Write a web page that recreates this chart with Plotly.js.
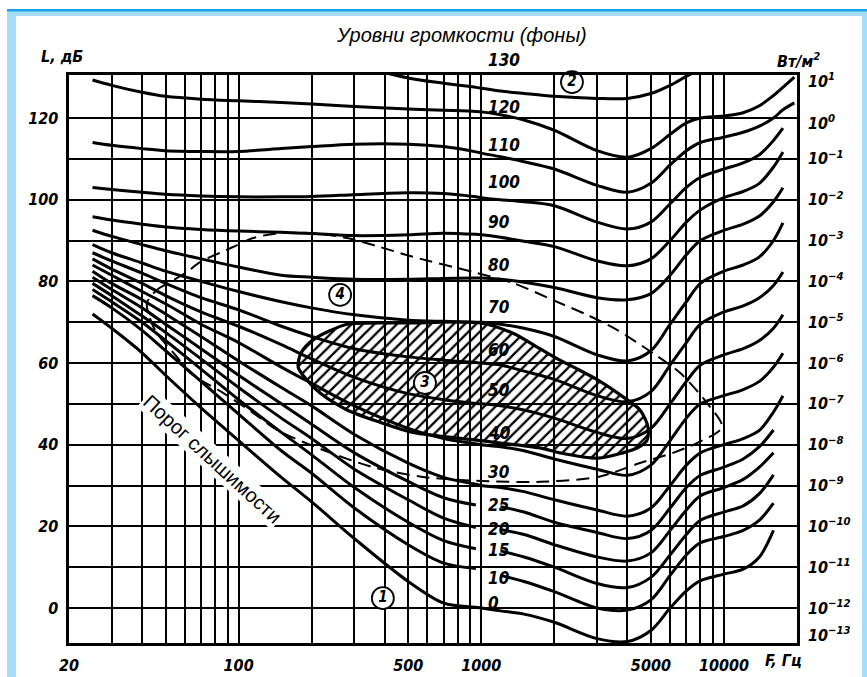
<!DOCTYPE html>
<html>
<head>
<meta charset="utf-8">
<script src="https://cdn.plot.ly/plotly-3.0.1.min.js"></script>
<style>
html,body{margin:0;padding:0;background:#fff;overflow:hidden;}
#chart{width:867px;height:677px;}
</style>
</head>
<body>
<div id="chart"></div>
<script>
// ---------------- DATA ----------------
const N = null;
// frequency samples, Hz
const freqHz = [25,30,40,50,70,100,150,200,300,500,700,950,1000,1200,1500,2000,3000,4000,5000,6000,7000,8000,10000,12000,14000,16000,17500,19500];

// loudness levels (phon) and their curves (dB)
const phon0   = [72,68.5,62.5,57,49,41,32,26,17,6.5,1.2,0.2,0,-0.7,-1.5,-3.5,-7.5,-8.2,-5.5,0,4.2,6.7,8.3,9.5,12.5,19,N,N];
const phon10  = [76.5,73.5,68,63,55.5,47.5,38.5,33,24.5,15.5,11,9.7,N,8,6.5,4,0,-0.5,2,8,13,16,17.5,19,21.5,25.7,N,N];
const phon15  = [78,75,70,65.5,58.5,51,43,37.5,29.5,21,16.5,14.5,N,14,12.5,10,6,5,7.5,13,18,21.5,23.5,25,28,32.6,N,N];
const phon20  = [79.5,76.5,71.5,67.5,61,54,46.5,41.5,34,26.5,22,19.7,N,19.2,18,15.5,12.5,11.5,13.5,19,24,27.5,29.5,31.5,34.5,38,N,N];
const phon25  = [81,78,73.5,69.5,63.5,57,50,45,38,31,27,25.2,N,24.8,23.5,21,18.5,17,19,24.5,29.5,32.5,34.5,36.5,39.5,43.6,N,N];
const phon30  = [82.5,79.5,75.5,72,66.5,60.5,54,49.5,42.5,35.5,32,30.3,30,29.5,28.5,26.5,24,22.5,24.5,30,35,38,40,41.5,43.5,48,52,N];
const phon40  = [84,81.5,77.5,74.5,69.5,65,59,55,49.5,44,41.5,40.2,40,39.5,38.5,36.5,34,32.5,35,41,46.5,50,52,53.5,55.5,59,62.4,N];
const phon50  = [85.5,83,79.5,76.5,72.5,69,64.5,61,56.5,52.5,51,50.1,50,49.5,48.5,46.5,43,41.5,44,50,55.5,59.5,62,63.5,65.5,68.5,71.8,N];
const phon60  = [87,85,82,79.5,76,73,69,66.5,63.5,61.5,60.7,60.1,60,59.5,58,56,52,50.5,53,59.5,65,69.5,72.5,74,76,79,82.3,N];
const phon70  = [89,87,84.5,82.5,80,77.5,75,73.5,71.8,70.5,70.2,70,70,69.5,68.5,66.5,62,60.5,63,69.5,75,79.5,82.5,84,86,90,94.3,N];
const phon80  = [92.5,91,89,87.5,85.5,83.5,81.5,81,80.5,80.5,80.7,80.8,80.8,80.5,79.8,78.5,76,75.5,77,81.5,86.5,90,92.5,94,96,99.5,102.9,N];
const phon90  = [95.8,95,94,93.3,92.7,92.3,92,91.7,91.2,91.4,91.8,91.5,91.4,90.8,89.8,88.5,85,83.8,85.5,90,94.5,97.5,100.5,102,104,108,111.7,N];
const phon100 = [103,102.5,101.8,101.3,100.9,100.7,100.7,100.8,101.2,101.7,101.5,100.7,100.5,100,99.5,98.5,94.5,92.8,94.5,99,103,105.5,107.5,109,111,114.5,117.5,N];
const phon110 = [114,113.3,112.5,112,111.8,111.8,112.5,113,113.6,113.6,113,111.7,111.4,110.5,109.3,107.5,103.5,101.8,104,108.5,112,114,115.3,116.5,118,120,122,123.7];
const phon120 = [129.3,128,126.3,125.3,124.6,124.2,123.8,123.4,122.8,122.2,121.9,121.6,121.5,120.8,119.5,117,112,110.4,112.5,116,118.8,120,120.5,121.3,123,125.5,127.5,130];
const phon130 = [N,N,N,N,N,N,N,N,133,129.8,128.5,127.5,127.3,126.6,126,125.3,124.8,124.8,126,128,130.2,132,N,N,N,N,N,N];

const phonCurves = [phon0,phon10,phon15,phon20,phon25,phon30,phon40,phon50,phon60,phon70,phon80,phon90,phon100,phon110,phon120,phon130];
const phonLabels = ['0','10','15','20','25','30','40','50','60','70','80','90','100','110','120','130'];
const phonLabelDb = [1.2,7.3,14.2,19.3,25.2,33.3,42.9,53.4,63.2,73.7,84,94.5,104.3,113.4,122.7,134.2];
const phonLabelFreq = 1046;

// region 3 (hatched: speech)
const speechFreq = [176,181,202,240,280,500,990,1351,1746,2109,2400,3027,3838,4508,4865,4820,4400,3838,3027,2109,1746,988,523,382,280,216,190,176];
const speechDb   = [59,62.5,65.6,68,69.5,69.8,69.8,67.3,63.5,60.7,59,55.8,51.7,48.5,44.3,41.1,39.2,38,36.7,38,39.2,41,43,45.5,48.5,52.7,56,59];

// region 4 (dashed: music)
const musicFreq = [41.9,46.1,52.2,61.3,69.3,94.8,114.6,148,202.5,279.7,382.4,523,924,1351,1975,2727,3625,5100,6590,8515,9818,7744,6166,4508,3027,1746,1007,575,357.8,222.8,143.9,114.6,86.2,63,55.7,45.2,41.9];
const musicDb   = [74.7,77.9,79.8,82.3,84.7,88.4,90.6,91.8,91.8,90.6,88.4,86,82.3,79.6,75.4,71.8,68.1,62.4,57.6,50.2,44.3,40.4,38,35.5,32.1,30.9,31.1,32.1,34.5,38.7,43.6,47.8,52.7,57.6,61.5,68.1,74.7];

// circled labels
const circleFreq = [393,2364,586,262];
const circleDb   = [2.4,128.8,55.1,76.7];
const circleText = ['1','2','3','4'];

// axes
const gridFreq = [30,40,50,60,70,80,90,200,300,400,600,700,800,900,2000,3000,4000,6000,7000,8000,9000];
const freqTicks = [20,100,500,1000,5000,10000];
const freqTickText = ['20','100','500','1000','5000','10000'];
const dbTicks = [0,20,40,60,80,100,120];
const dbMinorGrid = [10,30,50,70,90,110];
const intensityExp = [1,0,-1,-2,-3,-4,-5,-6,-7,-8,-9,-10,-11,-12,-13];
const intensityDb  = [129,118.7,110,100,90,80,70,60,50,40,30,20,10,0,-6.6];

// ---------------- PLOT ----------------
const FONT = "'Liberation Sans Narrow','DejaVu Sans Condensed','Arial Narrow','Liberation Sans',Arial,sans-serif";
const numFont = {family: FONT, size: 16, color: '#000', style: 'italic', weight: 'bold'};

const M = {l: 69, r: 70, t: 75, b: 34};
const W = 867 - M.l - M.r, H = 677 - M.t - M.b;
const pxX = p => (p - M.l) / W;
const pxY = p => (677 - M.b - p) / H;

const traces = [];

// hatched region 3
traces.push({
  x: speechFreq, y: speechDb, mode: 'lines', fill: 'toself',
  fillcolor: 'rgba(0,0,0,0)',
  fillpattern: {shape: '/', size: 8, solidity: 0.28, fgcolor: '#000', bgcolor: 'rgba(0,0,0,0)', fillmode: 'replace'},
  line: {color: '#000', width: 3.2, shape: 'spline', smoothing: 0.8},
  hoverinfo: 'skip'
});

// dashed region 4
traces.push({
  x: musicFreq, y: musicDb, mode: 'lines',
  line: {color: '#000', width: 2, dash: '13px,7px', shape: 'spline', smoothing: 0.8},
  hoverinfo: 'skip'
});

// loudness curves
phonCurves.forEach((c) => {
  traces.push({
    x: freqHz, y: c, mode: 'lines', connectgaps: false,
    line: {color: '#000', width: 3, shape: 'spline', smoothing: 0.9},
    hoverinfo: 'skip'
  });
});

// circled numbers
traces.push({
  x: circleFreq, y: circleDb, mode: 'markers+text', text: circleText,
  textposition: 'middle center', cliponaxis: false,
  textfont: {family: FONT, size: 15, color: '#000', style: 'italic', weight: 'bold'},
  marker: {symbol: 'circle', size: 22, color: '#fff', line: {color: '#000', width: 1.8}},
  hoverinfo: 'skip'
});

// anchor trace for right axis
traces.push({x: [1000], y: [0], yaxis: 'y2', mode: 'markers', marker: {opacity: 0}, hoverinfo: 'skip'});

const annotations = [];
phonLabels.forEach((t, i) => {
  const db = phonLabelDb[i];
  const yy = Math.min(db, 130.3);
  annotations.push({
    x: Math.log10(phonLabelFreq), y: yy, xref: 'x', yref: 'y',
    text: t, showarrow: false, xanchor: 'left', yanchor: 'middle',
    yshift: (db - yy) * (H / (130.53 + 8.57)),
    font: {family: FONT, size: 17, color: '#000', style: 'italic', weight: 'bold'}
  });
});
annotations.push({x: pxX(461), y: pxY(35), xref: 'paper', yref: 'paper', showarrow: false,
  text: 'Уровни громкости (фоны)', xanchor: 'center', yanchor: 'middle',
  font: {family: "'Liberation Sans',Arial,sans-serif", size: 20, color: '#000', style: 'italic'}});
annotations.push({x: pxX(62), y: pxY(56), xref: 'paper', yref: 'paper', showarrow: false,
  text: 'L, дБ', xanchor: 'center', yanchor: 'middle', font: numFont});
annotations.push({x: pxX(798), y: pxY(60), xref: 'paper', yref: 'paper', showarrow: false,
  text: 'Вт/м<sup>2</sup>', xanchor: 'center', yanchor: 'middle', font: numFont});
annotations.push({x: pxX(783), y: pxY(660), xref: 'paper', yref: 'paper', showarrow: false,
  text: 'F, Гц', xanchor: 'center', yanchor: 'middle', font: numFont});
annotations.push({x: Math.log10(78), y: 36.5, xref: 'x', yref: 'y', showarrow: false,
  text: 'Порог слышимости', textangle: 42.5, xanchor: 'center', yanchor: 'middle',
  bgcolor: '#ffffff', borderpad: 1,
  font: {family: "'Liberation Sans',Arial,sans-serif", size: 20, color: '#000'}});

const shapes = [
  {type: 'rect', xref: 'paper', yref: 'paper', x0: pxX(7), x1: pxX(900), y0: pxY(720), y1: pxY(9),
   fillcolor: '#a6ddf7', line: {width: 0}, layer: 'below'},
  {type: 'rect', xref: 'paper', yref: 'paper', x0: pxX(7), x1: pxX(900), y0: pxY(11.5), y1: pxY(9),
   fillcolor: '#19a3e8', line: {width: 0}, layer: 'below'},
  {type: 'rect', xref: 'paper', yref: 'paper', x0: pxX(16), x1: pxX(862), y0: pxY(720), y1: pxY(16),
   fillcolor: '#ffffff', line: {width: 0}, layer: 'below'}
];

const gridStyle = {showgrid: true, gridcolor: '#000', gridwidth: 2};

const layout = {
  width: 867, height: 677,
  margin: {l: M.l, r: M.r, t: M.t, b: M.b, pad: 0},
  paper_bgcolor: '#fff', plot_bgcolor: 'rgba(0,0,0,0)',
  showlegend: false,
  xaxis: Object.assign({
    type: 'log', range: [Math.log10(20), Math.log10(20000)],
    tickmode: 'array', tickvals: freqTicks, ticktext: freqTickText,
    minor: Object.assign({tickmode: 'array', tickvals: gridFreq, ticks: ''}, gridStyle),
    showline: true, mirror: true, linecolor: '#000', linewidth: 2.6,
    ticks: '', ticklabelstandoff: 6, zeroline: false, tickfont: numFont
  }, gridStyle),
  yaxis: Object.assign({
    range: [-8.57, 130.53],
    tickmode: 'array', tickvals: dbTicks,
    minor: Object.assign({tickmode: 'array', tickvals: dbMinorGrid, ticks: ''}, gridStyle),
    showline: true, mirror: true, linecolor: '#000', linewidth: 2.6,
    ticks: '', ticklabelstandoff: 5, zeroline: false, tickfont: numFont
  }, gridStyle),
  yaxis2: {
    overlaying: 'y', side: 'right', range: [-8.57, 130.53],
    tickmode: 'array', tickvals: intensityDb,
    ticktext: intensityExp.map(e => '10<sup>' + (e < 0 ? '−' + (-e) : e) + '</sup>'),
    showgrid: false, showline: false, zeroline: false, ticks: '',
    ticklabelstandoff: 10, tickfont: numFont
  },
  annotations: annotations,
  shapes: shapes
};

Plotly.newPlot('chart', traces, layout, {displayModeBar: false, staticPlot: true});
</script>
</body>
</html>
